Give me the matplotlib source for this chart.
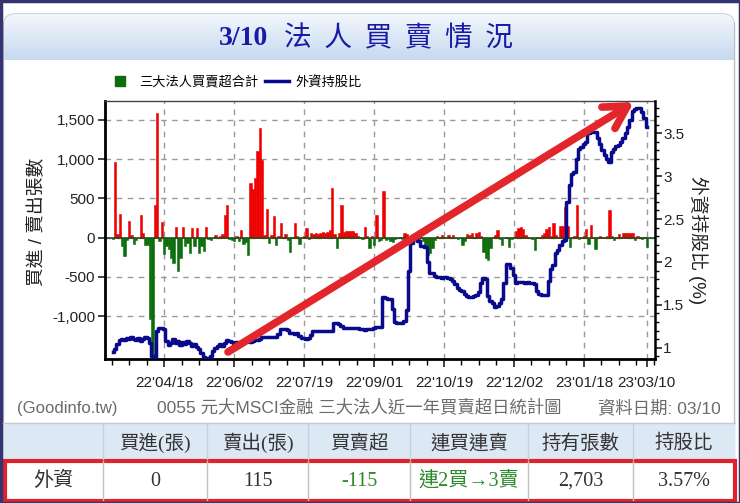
import numpy as np
import matplotlib.pyplot as plt
from matplotlib.patches import Rectangle, FancyBboxPatch, FancyArrowPatch
from matplotlib.lines import Line2D
from matplotlib.colors import LinearSegmentedColormap
from matplotlib.ticker import FuncFormatter, MultipleLocator

plt.rcParams['font.family'] = ['Liberation Sans', 'Noto Sans CJK TC', 'DejaVu Sans']

# daily net buy/sell of the three institutional investors (lots), about one year
net_buy = [
    -20, 970, 40, 300, -110, -240, -30, 210, 30, -80,
    -30, 0, 285, 60, -100, -100, -1040, -1510, 410, 1590,
    -40, 200, -210, -110, -150, -260, -320, 140, -430, -260,
    140, -110, -70, -200, 120, -110, 120, -190, -110, -175,
    140, -20, -30, -10, 30, 0, 20, 40, 290, 410,
    -20, -30, -40, 20, -40, 100, -80, -60, -220, 700,
    620, 760, 1110, 1400, 990, 30, 370, -70, 30, 275,
    -90, 20, 180, 10, 40, -30, -180, 10, 180, 20,
    -76, 10, 20, 120, -20, 60, 50, 60, 50, 60,
    70, 60, 70, 100, 630, 40, -130, 60, 415, 70,
    80, 90, 80, 90, 60, 20, 10, -20, 130, 20,
    -130, 20, -90, 290, -40, -30, 600, -30, -20, -40,
    -50, -20, -10, 10, -20, 55, 50, 10, -50, -30,
    10, -20, 10, -40, -135, -220, -200, -135, -30, 20,
    10, 35, 10, -10, 30, 10, 30, -10, -20, -10,
    -95, -40, 40, 30, 55, 10, 55, 76, 20, -178,
    -263, -285, -135, 10, 30, 97, -20, -93, -10, 10,
    -114, -20, 10, 85, 120, 130, 110, 30, 10, -10,
    -20, -160, 10, 10, 30, 60, 106, 136, 20, 190,
    30, 10, 148, 148, 390, 148, -118, 10, 20, 415,
    -20, 10, 20, 106, -85, 160, 10, -148, 10, 20,
    10, -10, 20, 350, 20, -30, 10, 40, 10, 64,
    64, 64, 64, 64, -30, 20, 10, -20, 10, -115,
]

# foreign holding ratio (%)
foreign_pct = [
    0.95, 0.98, 1.04, 1.09, 1.10, 1.09, 1.11, 1.10, 1.12, 1.10,
    1.09, 1.11, 1.08, 1.10, 1.12, 1.11, 1.05, 0.90, 0.88, 1.20,
    1.23, 1.23, 1.22, 1.08, 1.03, 1.05, 1.10, 1.06, 1.08, 1.03,
    1.07, 1.04, 1.08, 1.05, 1.02, 1.04, 1.01, 0.98, 0.94, 0.89,
    0.88, 0.88, 0.90, 0.96, 1.00, 1.02, 1.04, 1.02, 1.05, 1.09,
    1.08, 1.07, 1.06, 1.07, 1.06, 1.07, 1.08, 1.09, 1.08, 1.07,
    1.08, 1.09, 1.09, 1.10, 1.12, 1.13, 1.13, 1.13, 1.13, 1.12,
    1.13, 1.16, 1.22, 1.22, 1.22, 1.21, 1.17, 1.17, 1.16, 1.17,
    1.14, 1.11, 1.11, 1.10, 1.11, 1.15, 1.19, 1.19, 1.19, 1.19,
    1.19, 1.19, 1.19, 1.19, 1.20, 1.29, 1.29, 1.28, 1.25, 1.23,
    1.23, 1.23, 1.23, 1.23, 1.23, 1.23, 1.22, 1.22, 1.21, 1.22,
    1.22, 1.22, 1.23, 1.24, 1.24, 1.24, 1.59, 1.58, 1.57, 1.57,
    1.45, 1.30, 1.29, 1.29, 1.29, 1.31, 1.44, 1.90, 2.22, 2.27,
    2.28, 2.24, 2.19, 2.19, 2.18, 2.00, 1.87, 1.87, 1.84, 1.82,
    1.82, 1.81, 1.82, 1.82, 1.81, 1.80, 1.78, 1.74, 1.70, 1.67,
    1.66, 1.63, 1.60, 1.59, 1.59, 1.60, 1.62, 1.65, 1.75, 1.81,
    1.80, 1.60, 1.55, 1.52, 1.47, 1.49, 1.52, 1.57, 1.75, 1.98,
    1.98, 1.93, 1.85, 1.75, 1.77, 1.77, 1.77, 1.76, 1.77, 1.76,
    1.76, 1.74, 1.66, 1.63, 1.61, 1.61, 1.61, 1.78, 1.92, 1.96,
    2.10, 2.14, 2.20, 2.25, 2.26, 2.70, 2.90, 3.03, 3.05, 3.20,
    3.32, 3.34, 3.38, 3.40, 3.50, 3.51, 3.52, 3.52, 3.45, 3.38,
    3.30, 3.25, 3.20, 3.16, 3.28, 3.32, 3.35, 3.36, 3.40, 3.45,
    3.50, 3.57, 3.65, 3.76, 3.78, 3.79, 3.79, 3.75, 3.68, 3.57,
]

tick_pos = [22, 52, 82, 112, 142, 172, 202, 229]
tick_labels = ["22'04/18", "22'06/02", "22'07/19", "22'09/01",
               "22'10/19", "22'12/02", "23'01/18", "23'03/10"]

table_head = ['', '買進(張)', '賣出(張)', '買賣超', '連買連賣', '持有張數', '持股比']
table_row = ['外資', '0', '115', '-115', '連2買→3賣', '2,703', '3.57%']
table_row_colors = ['#333333', '#333333', '#333333', '#2a8a2a', '#2a8a2a', '#333333', '#333333']

W, H = 740, 503
fig = plt.figure(figsize=(W / 100, H / 100), dpi=100)

# background layer in pixel coordinates
bg = fig.add_axes([0, 0, 1, 1], zorder=0)
card = FancyBboxPatch((3.5, 14), 731, 520, boxstyle='round,pad=0,rounding_size=12',
                      fc='white', ec='#b9bdc9', lw=1)
bg.add_patch(card)
grad = np.linspace(0, 1, 64)[:, None]
hdr_cmap = LinearSegmentedColormap.from_list('hdr', ['#f3f7fc', '#c6d9ef'])
im = bg.imshow(grad, cmap=hdr_cmap, extent=(4, 734, 60, 14), aspect='auto', zorder=1)
im.set_clip_path(card)
bg.set_xlim(0, W)
bg.set_ylim(H, 0)
bg.axis('off')

bg.text(243, 38, '3/10', fontsize=20, fontweight='bold', color='#1a1aa8',
        family='Liberation Serif', ha='center', va='center', zorder=2)
bg.text(399, 38, '法  人  買  賣  情  況', fontsize=20, color='#1a1aa8',
        family='Noto Sans CJK TC', ha='center', va='center', zorder=2)

# footer captions
bg.text(17, 408, '(Goodinfo.tw)', fontsize=12, color='#6b6b6b', va='center')
bg.text(157, 408, '0055 元大MSCI金融 三大法人近一年買賣超日統計圖', fontsize=12.5,
        color='#6b6b6b', va='center')
bg.text(598, 408, '資料日期: 03/10', fontsize=12.5, color='#6b6b6b', va='center')

# axis titles
bg.text(37, 222, '買進 / 賣出張數', rotation=90, fontsize=13.5, color='#222222',
        ha='center', va='center')
bg.text(698, 240, '外資持股比 (%)', rotation=-90, fontsize=13.5, color='#222222',
        ha='center', va='center')

# table
cols = [3, 103, 207, 308, 410, 528, 633, 735]
bg.plot([3, 735], [423, 423], color='#c5c9d3', lw=1)
bg.add_patch(Rectangle((3, 424), 732, 35, fc='#dde8f5', ec='none'))
for c in cols[1:-1]:
    bg.plot([c, c], [424, 459], color='#c4d0e0', lw=1)
    bg.plot([c, c], [461, 500], color='#c0c0c0', lw=1)
for i in range(len(table_head)):
    xc = (cols[i] + cols[i + 1]) / 2
    bg.text(xc, 443, table_head[i], fontsize=14, color='#333333',
            family=['Liberation Serif', 'Noto Sans CJK TC'], ha='center', va='center')
    bg.text(xc, 481, table_row[i], fontsize=14.5, color=table_row_colors[i],
            family=['Liberation Serif', 'Noto Sans CJK TC'], ha='center', va='center')
bg.add_patch(Rectangle((4.5, 460.5), 730, 40, fill=False, ec='#e0222b', lw=3))
bg.add_patch(Rectangle((0.5, 0.5), W - 1, H - 1, fill=False, ec='#34346e', lw=2.5))

# main chart
ax = fig.add_axes([105 / W, 1 - 359 / H, 550 / W, 258 / H], zorder=2)
idx = np.arange(len(net_buy))
vals = np.array(net_buy)
bar_colors = np.where(vals >= 0, '#ee0000', '#0b6e0b')
ax.bar(idx, vals, width=1.0, color=bar_colors, edgecolor=bar_colors, lw=0.4, zorder=2)
ax.axhline(0, color='#1f4f1f', lw=1.2, zorder=2.5)
ax.set_xlim(-3.4, 232.5)
ax.set_ylim(-1548, 1742)
ax.set_yticks([-1000, -500, 0, 500, 1000, 1500])
ax.yaxis.set_major_formatter(FuncFormatter(lambda v, p: f'{v:,.0f}'))
ax.set_xticks(tick_pos)
ax.set_xticklabels(tick_labels)
ax.set_xticks([p for p in np.arange(-0.5, 233, 7.5) if min(abs(p - t) for t in tick_pos) > 2], minor=True)
ax.grid(True, which='major', ls=(0, (4, 4)), color='#9a9a9a', lw=1)
ax.set_axisbelow(True)
ax.tick_params(axis='x', which='major', length=6, width=1.2, pad=6, labelsize=11, colors='#222222')
ax.tick_params(axis='x', which='minor', length=4, width=1)
ax.tick_params(axis='y', length=5, width=1.2, pad=2, labelsize=11, colors='#222222')
for s in ['left', 'bottom']:
    ax.spines[s].set_linewidth(2)
ax.spines['top'].set_linewidth(1)
ax.spines['top'].set_color('#444444')
ax.spines['right'].set_visible(False)

ax2 = ax.twinx()
ax2.plot(idx, foreign_pct, color='#0a0a8c', lw=2.5, drawstyle='steps-mid', zorder=3)
ax2.set_ylim(0.868, 3.877)
ax2.set_yticks([1, 1.5, 2, 2.5, 3, 3.5])
ax2.yaxis.set_major_formatter(FuncFormatter(lambda v, p: f'{v:g}'))
ax2.yaxis.set_minor_locator(MultipleLocator(0.1))
ax2.tick_params(axis='y', which='major', length=5, width=1.2, pad=1, labelsize=11, colors='#222222')
ax2.tick_params(axis='y', which='minor', length=3, width=1)
for s in ['left', 'bottom', 'top']:
    ax2.spines[s].set_visible(False)
ax2.spines['right'].set_linewidth(1.8)

handles = [Line2D([], [], marker='s', ls='', color='#0b6e0b', markersize=7),
           Line2D([], [], color='#0a0a8c', lw=2.5)]
fig.legend(handles, ['三大法人買賣超合計', '外資持股比'], loc='center',
           bbox_to_anchor=(235 / W, 1 - 82 / H), ncol=2, frameon=False, fontsize=9.5,
           handlelength=1.8, handletextpad=0.5, columnspacing=0.5)

# red trend arrow on top
ov = fig.add_axes([0, 0, 1, 1], zorder=5)
ov.set_xlim(0, W)
ov.set_ylim(H, 0)
ov.axis('off')
ov.add_patch(FancyArrowPatch((228, 352), (634, 102),
                             arrowstyle='->,head_length=0.8,head_width=0.45',
                             mutation_scale=20, color='#e3262b', lw=5.5,
                             capstyle='round', shrinkA=0, shrinkB=0))

fig.savefig('out.png', dpi=100)
